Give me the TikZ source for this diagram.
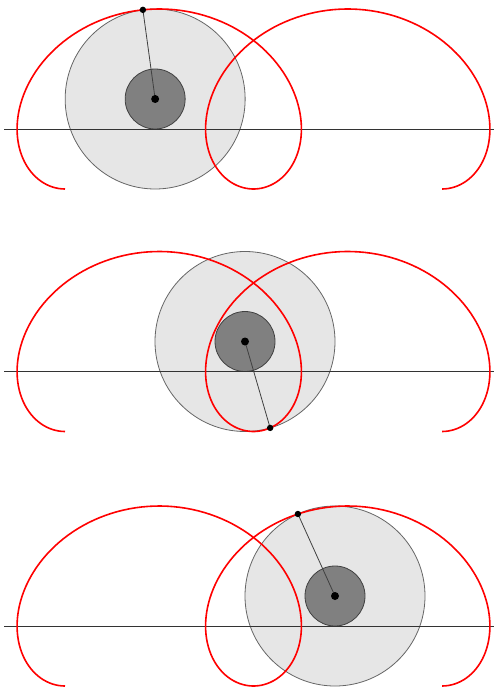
\documentclass[tikz,border=0pt]{standalone}
\usepackage{tikz}
\definecolor{diskbig}{HTML}{E6E6E6}
\definecolor{disksmall}{HTML}{808080}
\newcommand{\trochoid}[1]{\draw[red,line width=1.6pt] plot[domain=0:12.566,samples=240,variable=\t] ({65+30*\t-90*sin(\t r)},{#1+90*cos(\t r)});}

\begin{document}
\begin{tikzpicture}[x=1pt,y=-1pt]
\useasboundingbox (0,0) rectangle (495,687);
\foreach \cy/\tt/\n in {99/3.005/a,341.5/6.0/b,596/9.0/c}{
  \coordinate (c\n) at ({65+30*\tt},\cy);
  \coordinate (p\n) at ({65+30*\tt-90*sin(\tt r)},{\cy+90*cos(\tt r)});
  \coordinate (l\n) at (4,\cy+30);
  \coordinate (r\n) at (494,\cy+30);
  \draw[black!60,line width=.8pt,fill=diskbig] (c\n) circle[radius=90];
  \draw[black!75,line width=.8pt,fill=disksmall] (c\n) circle[radius=30];
  \draw[black!80,line width=.8pt] (l\n)--(r\n);
  \trochoid{\cy}
  \draw[black!75,line width=.8pt] (c\n)--(p\n);
  \fill (c\n) circle[radius=4];
  \fill (p\n) circle[radius=3.2];
}
\end{tikzpicture}
\end{document}
